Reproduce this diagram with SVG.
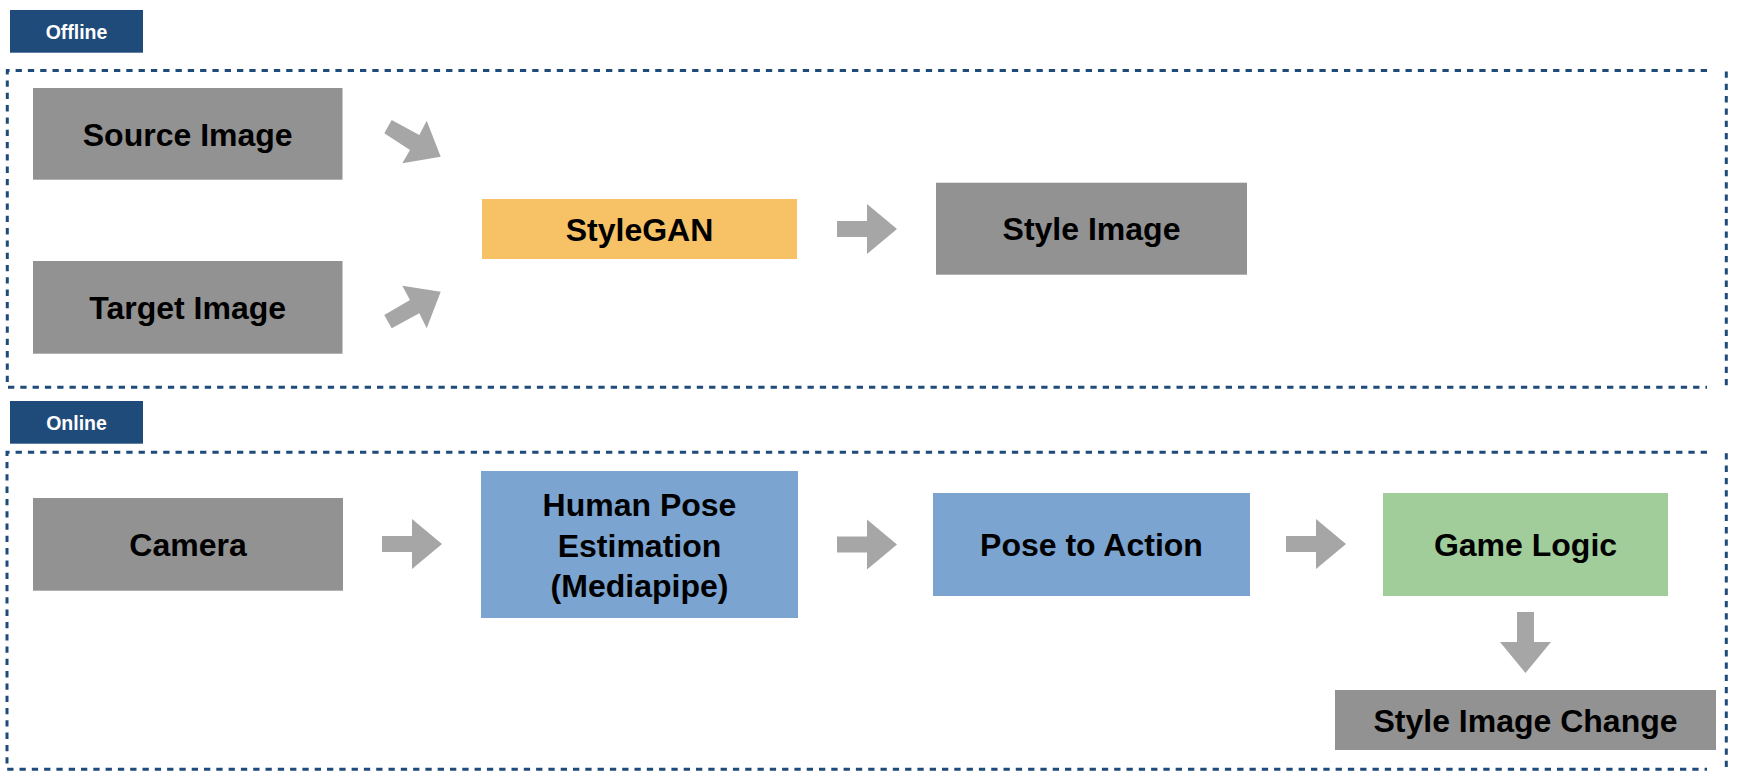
<svg xmlns="http://www.w3.org/2000/svg" width="1742" height="784" viewBox="0 0 1742 784">
<style>
  .lbl { fill: #1f4b7b; }
  .lbltxt { font-family: "Liberation Sans", Arial, Helvetica, sans-serif; font-weight: bold; font-size: 19.5px; fill: #ffffff; text-anchor: middle; }
  .frame { fill: none; stroke: #1f4b7b; stroke-width: 3; stroke-dasharray: 6.3 6; }
  .gray { fill: #929292; }
  .orange { fill: #f6c265; }
  .blue { fill: #7ba4d0; }
  .green { fill: #a1cd9a; }
  .txt { font-family: "Liberation Sans", Arial, Helvetica, sans-serif; font-weight: bold; font-size: 32px; fill: #000000; text-anchor: middle; }
  .arrow { fill: #a6a6a6; }
</style>

<g id="offline-section">
  <rect class="lbl" x="10" y="10" width="133" height="42.7"/>
  <text class="lbltxt" x="76.5" y="39">Offline</text>
  <path class="frame" d="M1707,70.5 H7.3 V387.3 H1707"/>
  <path class="frame" d="M1726.3,71.5 V387.3"/>
</g>

<g id="online-section">
  <rect class="lbl" x="10" y="401" width="133" height="42.7"/>
  <text class="lbltxt" x="76.5" y="430">Online</text>
  <path class="frame" d="M1707,452.3 H7 V769.3 H1707"/>
  <path class="frame" d="M1726.3,453.3 V769.3"/>
</g>

<g id="source-image">
  <rect class="gray" x="33" y="88" width="309.5" height="91.7"/>
  <text class="txt" x="187.7" y="145.7">Source Image</text>
</g>
<g id="target-image">
  <rect class="gray" x="33" y="261" width="309.5" height="92.7"/>
  <text class="txt" x="187.7" y="319">Target Image</text>
</g>
<g id="stylegan">
  <rect class="orange" x="482" y="199" width="315" height="60"/>
  <text class="txt" x="639.5" y="240.5">StyleGAN</text>
</g>
<g id="style-image">
  <rect class="gray" x="936" y="182.7" width="311" height="92"/>
  <text class="txt" x="1091.5" y="240.2">Style Image</text>
</g>

<g id="camera">
  <rect class="gray" x="33" y="498" width="310" height="92.7"/>
  <text class="txt" x="188" y="556">Camera</text>
</g>
<g id="human-pose-estimation">
  <rect class="blue" x="481" y="471" width="317" height="147"/>
  <text class="txt" x="639.5" y="516">Human Pose</text>
  <text class="txt" x="639.5" y="557">Estimation</text>
  <text class="txt" x="639.5" y="597">(Mediapipe)</text>
</g>
<g id="pose-to-action">
  <rect class="blue" x="933" y="493" width="317" height="103"/>
  <text class="txt" x="1091.5" y="556">Pose to Action</text>
</g>
<g id="game-logic">
  <rect class="green" x="1383" y="493" width="285" height="103"/>
  <text class="txt" x="1525.5" y="556">Game Logic</text>
</g>
<g id="style-image-change">
  <rect class="gray" x="1335" y="690" width="381" height="60"/>
  <text class="txt" x="1525.5" y="731.7">Style Image Change</text>
</g>

<g id="connectors">
  <polygon class="arrow" points="391.7,120 419.3,135 426.7,120.7 440.7,156.7 402.3,163.3 410,150 384.3,133.3"/>
  <polygon class="arrow" points="384.3,315 391.7,328.3 419.3,313.3 426.7,328.3 440.7,291.7 402.3,285.7 410,300"/>
  <polygon class="arrow" points="837,221 867,221 867,204 897,229 867,254 867,237 837,237"/>
  <polygon class="arrow" points="382,536 412,536 412,519 442,544 412,569 412,552 382,552"/>
  <polygon class="arrow" points="837,536.5 867,536.5 867,519.5 897,544.5 867,569.5 867,552.5 837,552.5"/>
  <polygon class="arrow" points="1286,536 1316,536 1316,519 1346,544 1316,569 1316,552 1286,552"/>
  <polygon class="arrow" points="1517,612 1534,612 1534,642 1551,642 1525.5,673 1500,642 1517,642"/>
</g>
</svg>
